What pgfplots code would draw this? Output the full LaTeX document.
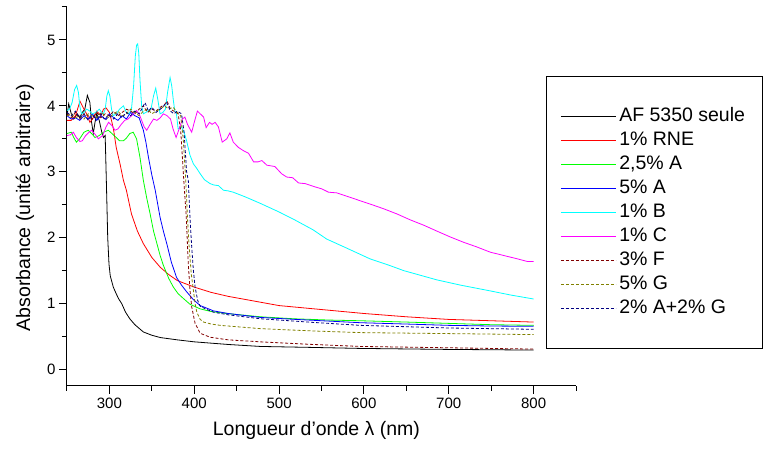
\documentclass[border=0pt]{standalone}
\usepackage{pgfplots}
\pgfplotsset{compat=1.18}
\usepackage{fontspec}
\setmainfont{Liberation Sans}
\definecolor{cblack}{RGB}{0,0,0}
\definecolor{cred}{RGB}{255,0,0}
\definecolor{cgreen}{RGB}{0,255,0}
\definecolor{cblue}{RGB}{0,0,255}
\definecolor{ccyan}{RGB}{0,255,255}
\definecolor{cmag}{RGB}{255,0,255}
\definecolor{cdred}{RGB}{128,0,0}
\definecolor{colive}{RGB}{128,128,0}
\definecolor{cnavy}{RGB}{0,0,128}
\begin{document}
\begin{tikzpicture}
\useasboundingbox (-67pt,-68pt) rectangle (700pt,386pt);
\begin{axis}[
  at={(0pt,0pt)}, anchor=south west,
  scale only axis, width=509pt, height=379pt,
  xmin=250, xmax=850, ymin=-0.25, ymax=5.5,
  axis lines=left,
  axis line style={-, line width=1pt},
  xtick={300,400,...,800},
  minor xtick={250,350,...,850},
  ytick={0,1,...,5},
  minor ytick={-0.5,0.5,1.5,...,5.5},
  tick align=outside,
  major tick length=8pt, minor tick length=5pt,
  tick style={line width=1pt, black},
  /pgf/number format/assume math mode=true,
  ticklabel style={font=\fontsize{15}{18}\selectfont},
  xlabel={Longueur d'onde λ (nm)},
  ylabel={Absorbance (unité arbitraire)},
  label style={font=\fontsize{19.5}{22}\selectfont},
  xlabel style={at={(axis description cs:0.49,-0.116)}, anchor=center},
  ylabel style={at={(axis description cs:-0.0825,0.47)}, anchor=center},
  every axis plot/.append style={line width=0.8pt},
  legend cell align=left,
  legend image code/.code={\path (0pt,0pt) -- (5pt,0pt); \draw[#1] (5pt,0pt) -- (55pt,0pt);},
  legend style={font=\fontsize{19.5}{22}\selectfont,
    at={(axis description cs:0.941,0.818)}, anchor=north west,
    draw=black, line width=1pt,
    inner xsep=14pt, inner ysep=28pt, row sep=0pt,
    nodes={inner xsep=3pt, inner ysep=3pt, text height=14pt, text depth=4pt}},
]
% AF 5350 seule
\addplot[cblack] coordinates {
(250,3.85)(252,4.03)(255,3.88)(258,3.80)(262,3.88)(265,3.82)(268,3.90)(271,3.95)(274,4.16)(277,4.05)(279,3.75)(281,3.58)(283,3.75)(285,3.88)(288,3.78)(291,3.60)(293,3.52)(295,3.55)(296.5,2.8)(298,2.0)(299.5,1.6)(301,1.42)(304.6,1.25)(308,1.15)(311,1.07)(314.5,1.0)(319,0.87)(324,0.77)(330,0.68)(340,0.57)(350,0.52)(360,0.485)(380,0.45)(400,0.42)(440,0.38)(478,0.35)(540,0.335)(596,0.32)(700,0.305)(800,0.295)};
\addlegendentry{AF 5350 seule}
% 1% RNE
\addplot[cred] coordinates {
(250,3.78)(255,3.78)(260,3.85)(265.3,4.07)(268,4.0)(273,3.88)(277,3.75)(280,3.80)(285,3.92)(290,3.85)(293,3.95)(296,3.97)(300,3.9)(303,3.75)(305,3.63)(308,3.37)(312.5,3.12)(316.5,2.87)(320,2.72)(326,2.36)(333,2.1)(340,1.91)(350,1.70)(360,1.55)(370,1.44)(380,1.35)(400,1.25)(420,1.17)(440,1.11)(470,1.04)(500,0.97)(550,0.91)(600,0.85)(650,0.80)(700,0.76)(750,0.74)(800,0.72)};
\addlegendentry{1\% RNE}
% 2,5% A
\addplot[cgreen] coordinates {
(250,3.58)(255,3.60)(258,3.52)(261,3.45)(265,3.50)(270,3.60)(275,3.63)(279,3.58)(283,3.52)(288,3.55)(293,3.60)(298.7,3.63)(303,3.58)(308,3.52)(312,3.47)(316.5,3.47)(320,3.51)(324,3.58)(328,3.60)(332,3.50)(336,3.22)(340,2.87)(344,2.60)(348,2.36)(352,2.10)(356,1.91)(360,1.72)(363.6,1.58)(370,1.38)(375.4,1.25)(381,1.15)(387,1.08)(395,0.99)(407,0.92)(420,0.88)(438,0.85)(478,0.80)(517,0.77)(560,0.75)(596,0.74)(650,0.72)(700,0.70)(750,0.68)(800,0.67)};
\addlegendentry{2,5\% A}
% 5% A
\addplot[cblue] coordinates {
(250,3.85)(255,3.80)(260,3.82)(265,3.78)(270,3.85)(275,3.80)(280,3.88)(285,3.78)(290,3.85)(295,3.80)(300,3.88)(305,3.82)(310,3.78)(315,3.85)(320,3.80)(325,3.90)(330,3.85)(335,3.82)(340,3.63)(343,3.45)(346,3.22)(350,2.95)(354,2.72)(359.7,2.31)(363.6,2.10)(367.6,1.91)(373,1.63)(379,1.40)(385,1.28)(391,1.18)(399,1.06)(407,0.97)(415,0.93)(422.6,0.89)(440,0.85)(478,0.79)(520,0.76)(596,0.71)(650,0.69)(700,0.67)(750,0.66)(800,0.655)};
\addlegendentry{5\% A}
% 1% B
\addplot[ccyan] coordinates {
(250,3.93)(253,3.95)(256,4.05)(259,4.25)(261.4,4.31)(263.5,4.2)(265,4.0)(267,3.88)(270,3.9)(273,3.95)(276,3.93)(280,3.88)(284,3.90)(288,3.95)(291,3.90)(293,3.88)(295,3.95)(297,4.15)(298.7,4.23)(300.5,4.15)(302.5,3.95)(304.6,3.85)(308,3.88)(312,3.95)(316.5,4.0)(320,3.90)(323,3.88)(326,3.95)(328.5,4.3)(330.5,4.75)(332,4.92)(333.3,4.94)(334.6,4.8)(336,4.4)(338,4.0)(340,3.88)(343,3.90)(346,3.93)(349,3.95)(352,4.15)(354.6,4.27)(357,4.1)(359.7,3.88)(363,3.90)(366,3.95)(368.5,4.2)(371.5,4.43)(373.5,4.3)(375.4,4.08)(377,3.93)(379,3.88)(381,3.65)(385,3.68)(388,3.6)(391,3.47)(395,3.25)(399,3.12)(403,3.05)(407,2.97)(412,2.88)(418.7,2.82)(423,2.80)(428.5,2.79)(434.4,2.72)(440,2.71)(446,2.69)(460,2.62)(478,2.52)(500,2.39)(517,2.28)(540,2.12)(556,1.98)(580,1.84)(607,1.68)(630,1.58)(647,1.50)(686,1.36)(714,1.28)(750,1.19)(773,1.13)(800,1.07)};
\addlegendentry{1\% B}
% 1% C
\addplot[cmag] coordinates {
(250,3.55)(254,3.56)(257.5,3.60)(261,3.52)(265.3,3.46)(268,3.47)(272,3.55)(276,3.60)(279,3.63)(283,3.57)(287,3.50)(292,3.55)(296,3.68)(299,3.75)(303,3.70)(306.6,3.63)(310,3.65)(314,3.72)(318,3.78)(322,3.80)(326,3.85)(332,3.93)(335,3.88)(338,3.78)(341,3.68)(344,3.63)(348,3.72)(352,3.80)(356,3.78)(360,3.82)(363.6,3.88)(368,3.85)(372,3.80)(375,3.65)(378.6,3.52)(383,3.68)(386,3.80)(389,3.83)(392,3.72)(397,3.60)(400,3.75)(403.7,3.92)(407,3.88)(411,3.83)(414,3.67)(418,3.75)(421,3.72)(424.6,3.75)(428.5,3.68)(433,3.45)(438.4,3.50)(442,3.59)(446,3.45)(452,3.37)(458,3.32)(464,3.28)(470,3.15)(475,3.15)(479.7,3.17)(485.6,3.10)(495,3.08)(503,2.97)(509,2.92)(516,2.91)(523,2.83)(531,2.82)(542.6,2.77)(550.5,2.74)(558.3,2.69)(568,2.68)(582,2.62)(595.7,2.56)(609.6,2.50)(623,2.44)(639,2.36)(654.7,2.27)(670.4,2.19)(686,2.10)(702,2.01)(717.6,1.93)(733,1.86)(749,1.78)(764.8,1.73)(780.6,1.68)(792.4,1.64)(800,1.64)};
\addlegendentry{1\% C}
% 3% F
\addplot[cdred, dash pattern=on 3pt off 2pt] coordinates {
(250,3.88)(255,3.82)(260,3.90)(265,3.80)(270,3.88)(275,3.85)(280,3.80)(285,3.90)(290,3.82)(295,3.88)(300,3.85)(305,3.92)(310,3.85)(315,3.90)(320,3.95)(325,3.92)(330,3.88)(335,3.95)(340,4.0)(345,3.90)(350,3.95)(355,3.92)(360,3.98)(365,4.02)(368,4.07)(372,3.95)(376,3.92)(381,3.88)(384,3.63)(386.5,3.12)(388,2.80)(390.4,2.36)(393,1.60)(395,1.20)(397,0.95)(401,0.70)(407,0.55)(418.7,0.49)(440,0.45)(478,0.42)(540,0.38)(596,0.35)(700,0.33)(800,0.31)};
\addlegendentry{3\% F}
% 5% G
\addplot[colive, dash pattern=on 3pt off 2pt] coordinates {
(250,3.85)(255,3.88)(260,3.82)(265,3.85)(270,3.80)(275,3.88)(280,3.85)(285,3.82)(290,3.90)(295,3.85)(300,3.82)(305,3.88)(310,3.92)(315,3.85)(320,3.88)(325,3.95)(330,3.90)(335,3.85)(340,3.92)(345,3.95)(350,3.88)(355,3.92)(360,3.95)(365,4.0)(370,3.95)(375,3.98)(380,3.90)(384,3.85)(387,3.5)(390,2.87)(392,2.3)(394,1.86)(396.5,1.45)(399,1.2)(401,1.0)(403,0.87)(407,0.76)(411,0.72)(420,0.69)(430.5,0.67)(478,0.62)(540,0.585)(596,0.56)(700,0.545)(800,0.53)};
\addlegendentry{5\% G}
% 2% A+2% G
\addplot[cnavy, dash pattern=on 3pt off 2pt] coordinates {
(250,3.90)(255,3.85)(260,3.92)(265,3.82)(270,3.88)(275,3.78)(280,3.85)(285,3.80)(290,3.88)(295,3.78)(300,3.85)(305,3.80)(310,3.88)(315,3.82)(320,3.90)(325,3.85)(330,3.92)(335,3.88)(338,3.95)(342,4.05)(346,3.92)(350,3.98)(355,3.90)(360,3.95)(364,4.0)(367.6,4.05)(372,3.92)(376,3.88)(380,3.92)(385,3.88)(388,3.6)(391,3.0)(393,2.87)(395,2.3)(397,1.86)(399,1.5)(401,1.25)(404,1.05)(407,0.96)(415,0.91)(422.6,0.87)(440,0.83)(478,0.77)(540,0.715)(596,0.67)(700,0.63)(800,0.61)};
\addlegendentry{2\% A+2\% G}
\end{axis}
\end{tikzpicture}
\end{document}
